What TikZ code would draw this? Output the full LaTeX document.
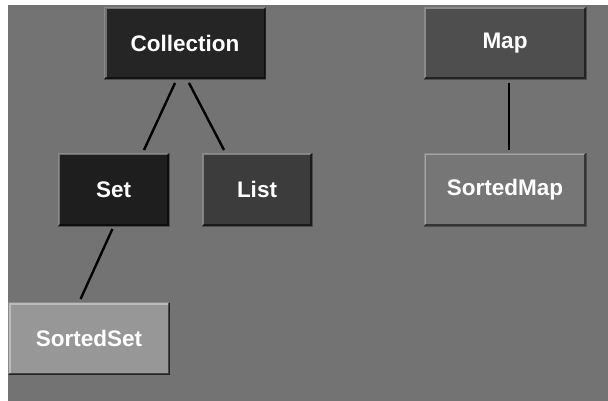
\documentclass[tikz,border=0pt]{standalone}
\usepackage{fontspec}
\setmainfont{Liberation Sans}
\usetikzlibrary{calc}
\definecolor{bg}{HTML}{737373}
\definecolor{cColl}{HTML}{252525}
\definecolor{cSet}{HTML}{1E1E1E}
\definecolor{cList}{HTML}{3C3C3C}
\definecolor{cMap}{HTML}{4E4E4E}
\definecolor{cSMap}{HTML}{767676}
\definecolor{cSSet}{HTML}{979797}
\tikzset{
  box/.style={rectangle, inner sep=0pt, draw=black!70, line width=0.6pt,
    text=white, font=\fontsize{22.5}{26}\selectfont\bfseries},
  link/.style={line width=2.4pt, black},
  hilite/.style={white, opacity=0.35, line width=2.2pt},
  shade/.style={black, opacity=0.55, line width=2.2pt}
}
\begin{document}
\begin{tikzpicture}[x=1pt,y=-1pt]
\useasboundingbox (0,0) rectangle (608,401);
\fill[white] (0,0) rectangle (608,401);
\fill[bg] (8,5) rectangle (608,401);
\node[box, fill=cColl, minimum width=161pt, minimum height=72pt] (coll) at (185,43.3) {Collection};
\node[box, fill=cMap, minimum width=162pt, minimum height=72pt] (map) at (505,43.3) {Map};
\node[box, fill=cSet, minimum width=111pt, minimum height=73pt] (set) at (113.7,189.5) {Set};
\node[box, fill=cList, minimum width=110pt, minimum height=73pt] (list) at (257,189.5) {List};
\node[box, fill=cSMap, minimum width=162pt, minimum height=73pt] (smap) at (505,189.5) {SortedMap};
\node[box, fill=cSSet, minimum width=161pt, minimum height=72pt] (sset) at (89,338.5) {SortedSet};
\foreach \n in {coll,map,set,list,smap,sset}{
  \draw[hilite] ($(\n.south west)+(1.2,-1.2)$) -- ($(\n.north west)+(1.2,1.2)$) -- ($(\n.north east)+(-1.2,1.2)$);
  \draw[shade] ($(\n.north east)+(-1.2,1.2)$) -- ($(\n.south east)+(-1.2,-1.2)$) -- ($(\n.south west)+(1.2,-1.2)$);
}
\coordinate (c1) at (175,83);
\coordinate (s1) at (144,150);
\coordinate (c2) at (189,83);
\coordinate (l1) at (224,150);
\coordinate (s2) at (112.4,229);
\coordinate (ss1) at (80.6,299);
\coordinate (m1) at (509,83);
\coordinate (sm1) at (509,150);
\draw[link] (c1) -- (s1);
\draw[link] (c2) -- (l1);
\draw[link] (s2) -- (ss1);
\draw[link] (m1) -- (sm1);
\end{tikzpicture}
\end{document}
